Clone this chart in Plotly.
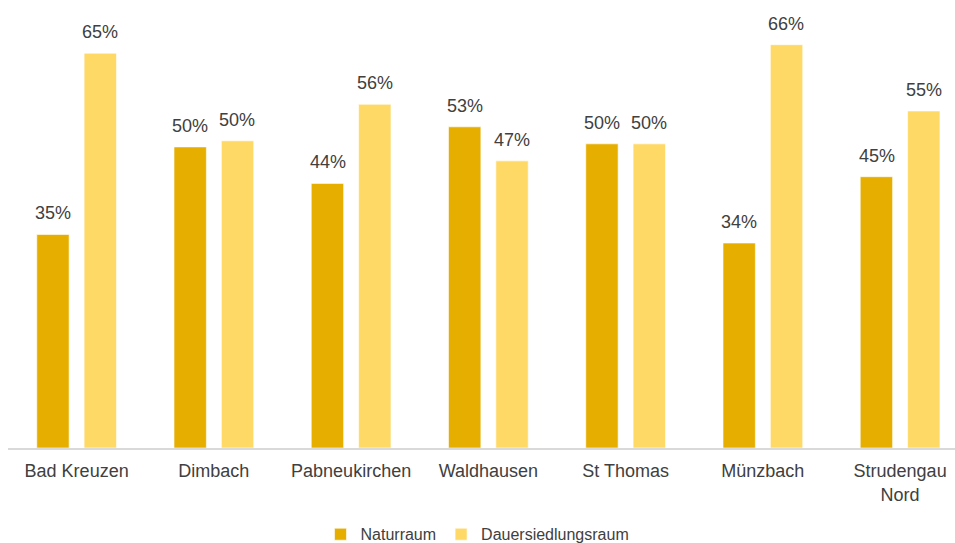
import plotly.graph_objects as go

# Gemeinden und Flächenanteile (Anteil an der Gesamtfläche)
gemeinden = ["Bad Kreuzen", "Dimbach", "Pabneukirchen", "Waldhausen",
             "St Thomas", "Münzbach", "Strudengau<br>Nord"]
naturraum = [0.351, 0.495, 0.435, 0.528, 0.500, 0.337, 0.446]
dauersiedlungsraum = [0.649, 0.505, 0.565, 0.472, 0.500, 0.663, 0.554]

serien = [
    ("Naturraum", naturraum, "#E6AF00", -23.5),
    ("Dauersiedlungsraum", dauersiedlungsraum, "#FFD966", 23.5),
]

text_color = "#404040"
font_family = "Liberation Sans, Arial, sans-serif"

fig = go.Figure()
annotations = []
for name, values, color, shift in serien:
    fig.add_trace(go.Bar(
        name=name,
        x=gemeinden,
        y=values,
        marker=dict(color=color, line=dict(color="rgba(255,255,255,0.6)", width=1)),
        hoverinfo="x+y",
    ))
    for g, v in zip(gemeinden, values):
        annotations.append(dict(
            x=g, y=v, xref="x", yref="y",
            text=f"{round(v * 100):.0f}%",
            showarrow=False,
            xshift=shift, yshift=9,
            yanchor="bottom",
            font=dict(size=18, color=text_color, family=font_family),
        ))

fig.update_layout(
    width=955, height=543,
    margin=dict(l=8, r=0, t=10, b=95, autoexpand=False),
    paper_bgcolor="white",
    plot_bgcolor="white",
    barmode="group",
    bargap=0.31,
    bargroupgap=0.316,
    font=dict(family=font_family, color=text_color),
    showlegend=True,
    legend=dict(
        orientation="h",
        x=0.5, xanchor="center", xref="container",
        y=0.016, yanchor="middle", yref="container",
        font=dict(size=16, color=text_color, family=font_family),
        itemwidth=30,
        traceorder="normal",
    ),
    annotations=annotations,
)

fig.update_xaxes(
    type="category",
    range=[-0.5, 6.4],
    showline=True, linecolor="#d9d9d9", linewidth=1.5,
    showgrid=False, ticks="",
    ticklabelstandoff=6,
    tickfont=dict(size=18, color=text_color, family=font_family),
)
fig.update_yaxes(
    range=[0, 0.72],
    visible=False,
    showgrid=False, zeroline=False,
)

fig.write_html("out.html")
